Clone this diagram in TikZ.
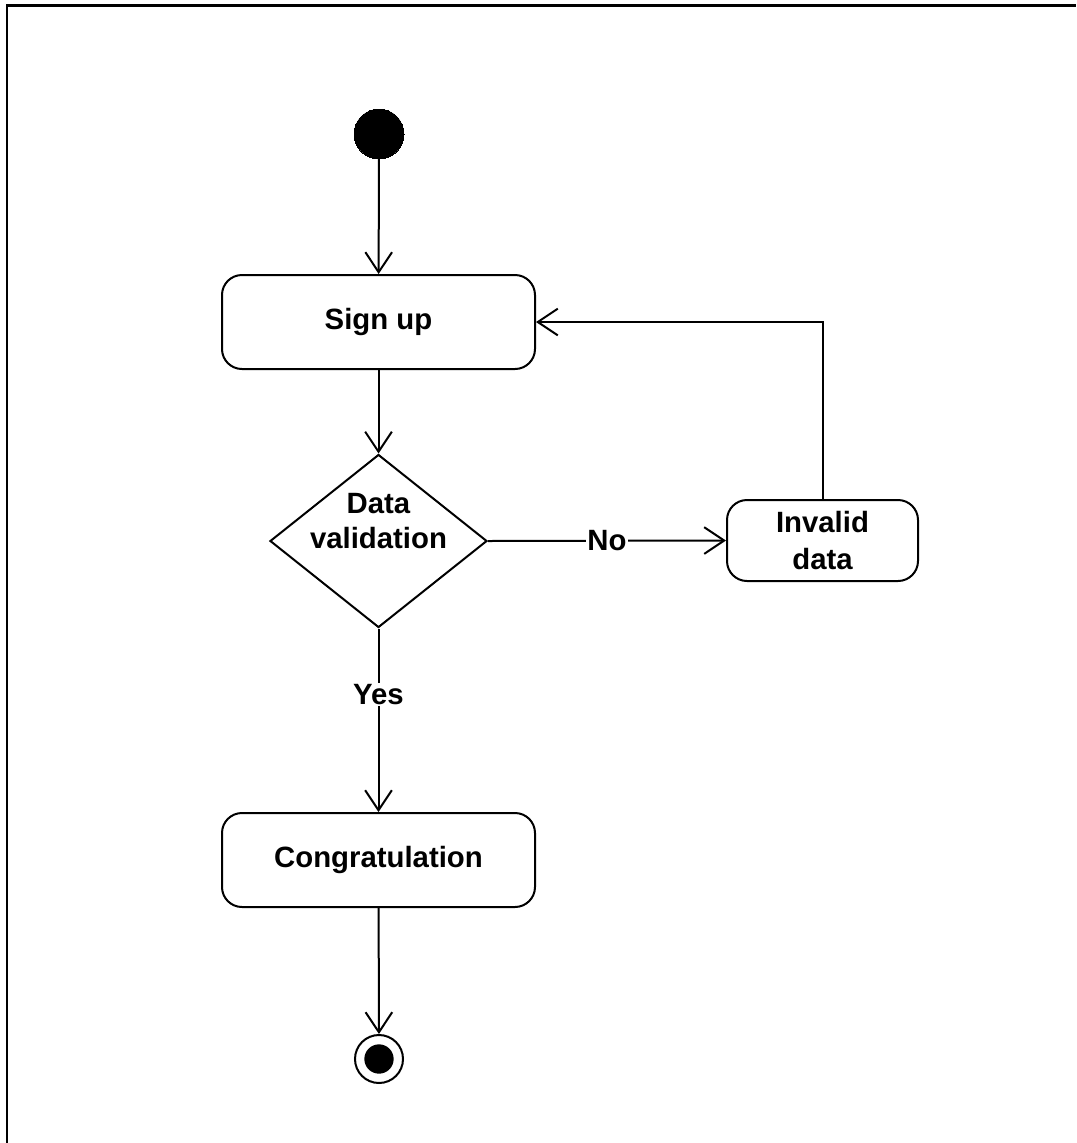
\documentclass[tikz,border=0pt]{standalone}
\usepackage{fontspec}
\setmainfont{Liberation Sans}
\usetikzlibrary{arrows.meta,shapes.geometric}
\begin{document}
\begin{tikzpicture}[x=0.75pt,y=-0.75pt,
  line width=1.5pt,
  lbl/.style={font=\fontsize{22}{26}\selectfont\bfseries, align=center},
  actbox/.style={draw, rounded corners=15pt, lbl, inner sep=0pt},
  flow/.style={-{Straight Barb[length=15pt,width=20pt,line width=1.5pt]}},
  edgelbl/.style={lbl, fill=white, inner sep=1pt}
]
\useasboundingbox (0,0) rectangle (1076,1143);
\draw[line width=1.6pt] (7,1143) -- (7,5.5) -- (1076,5.5);

\node[circle, fill=black, draw=black, line width=0pt, minimum size=37.5pt, inner sep=0pt] (start) at (379,134) {};
\node[actbox, minimum width=234.75pt, minimum height=70.5pt] (signup) at (378.5,322) {Sign up};
\node[draw, diamond, minimum width=162.75pt, minimum height=129.75pt, inner sep=0pt] (valid) at (378.5,541) {};
\node[lbl] (validtxt) at (378.5,521) {Data\\validation};
\node[actbox, minimum width=143.25pt, minimum height=60.75pt, font=\fontsize{22}{27.5}\selectfont\bfseries] (invalid) at (822.5,540.5) {Invalid\\data};
\node[actbox, minimum width=234.75pt, minimum height=70.5pt] (congrat) at (378.5,860) {Congratulation};
\node[circle, draw, minimum size=36pt, inner sep=0pt] (final) at (379,1059) {};
\node[circle, fill=black, minimum size=22pt, inner sep=0pt] (finalin) at (final.center) {};

\draw[flow] (start) -- (signup);
\draw[flow] (signup) -- (valid);
\draw[flow] (valid.east) -- node[edgelbl] {No} (invalid.west);
\draw[flow] (invalid.north) |- (signup.east);
\draw[flow] (valid.south) -- node[edgelbl, pos=0.36] {Yes} (congrat.north);
\draw[flow] (congrat) -- (final);
\end{tikzpicture}
\end{document}
